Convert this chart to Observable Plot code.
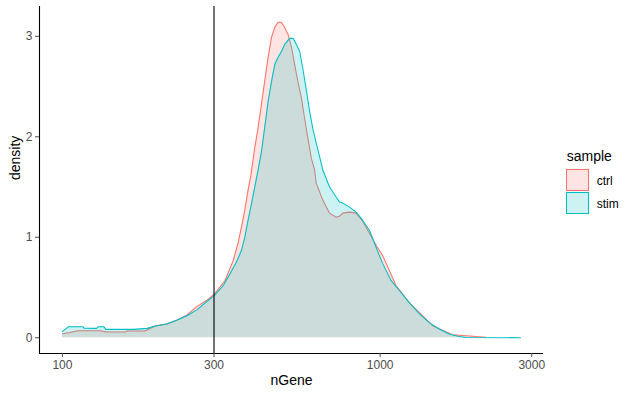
<!DOCTYPE html>
<html>
<head>
<meta charset="utf-8">
<script src="https://cdn.jsdelivr.net/npm/d3@7"></script>
<script src="https://cdn.jsdelivr.net/npm/@observablehq/plot@0.6"></script>
<style>
  body { margin: 0; background: #fff; }
  #wrap { position: relative; width: 635px; height: 398px; font-family: "Liberation Sans", Arial, sans-serif; }
  #legend { position: absolute; left: 556px; top: 140px; }
</style>
</head>
<body>
<div id="wrap"></div>
<script>
// ---- data (nGene on log scale, density) ----
const ctrlX = [100, 104.7, 112, 132, 135, 138, 158, 160, 182, 196, 213, 229, 246, 265, 284, 300, 325, 345, 357, 366, 375, 384, 392, 403, 413, 423, 433, 444, 455, 466, 477, 489, 498, 513, 526, 538, 551, 565, 578, 592, 607, 622, 629, 660, 693, 727, 745, 763, 801, 840, 881, 925, 971, 1018, 1069, 1122, 1235, 1359, 1462, 1689, 2149];
const ctrlD = [0.04, 0.05, 0.07, 0.07, 0.063, 0.057, 0.057, 0.067, 0.067, 0.117, 0.137, 0.175, 0.225, 0.31, 0.37, 0.43, 0.57, 0.77, 0.94, 1.10, 1.27, 1.47, 1.62, 1.89, 2.09, 2.32, 2.55, 2.79, 2.99, 3.09, 3.14, 3.14, 3.10, 3.02, 2.89, 2.72, 2.55, 2.39, 2.19, 1.99, 1.79, 1.67, 1.54, 1.37, 1.24, 1.20, 1.21, 1.24, 1.25, 1.24, 1.16, 1.04, 0.92, 0.82, 0.67, 0.52, 0.35, 0.22, 0.12, 0.03, 0.005];
const stimX = [100, 104.7, 116, 117, 128, 130, 135, 137, 166, 168, 185, 196, 213, 229, 246, 265, 284, 300, 321, 337, 353, 366, 375, 384, 394, 403, 413, 423, 433, 444, 455, 466, 477, 489, 501, 519, 532, 545, 558, 571, 586, 600, 614, 629, 645, 660, 693, 727, 745, 763, 801, 840, 881, 925, 971, 1018, 1082, 1149, 1235, 1327, 1427, 1534, 1649, 1772, 1860, 2767];
const stimD = [0.063, 0.11, 0.11, 0.095, 0.093, 0.11, 0.11, 0.083, 0.083, 0.083, 0.093, 0.117, 0.137, 0.173, 0.217, 0.277, 0.357, 0.417, 0.52, 0.637, 0.753, 0.87, 1.0, 1.17, 1.34, 1.50, 1.67, 1.85, 2.09, 2.35, 2.55, 2.72, 2.79, 2.85, 2.92, 2.98, 2.98, 2.92, 2.85, 2.68, 2.46, 2.25, 2.08, 1.94, 1.80, 1.67, 1.50, 1.40, 1.35, 1.34, 1.30, 1.25, 1.17, 1.07, 0.90, 0.74, 0.57, 0.47, 0.35, 0.24, 0.15, 0.087, 0.037, 0.013, 0.003, 0.0];
const samples = ["ctrl", "stim"];
const colors = ["#F8766D", "#00BFC4"];
const xTicks = [100, 300, 1000, 3000];
const yTicks = [0, 1, 2, 3];
const cutoff = 300;

// ggplot-like 5% expansion of the data range
const allX = ctrlX.concat(stimX);
const lx0 = Math.log10(d3.min(allX)), lx1 = Math.log10(d3.max(allX));
const padX = (lx1 - lx0) * 0.05;
const xDomain = [10 ** (lx0 - padX), 10 ** (lx1 + padX)];
const yMax = d3.max(ctrlD.concat(stimD));
const yDomain = [-0.05 * yMax, yMax * 1.05];

const font = '"Liberation Sans", Arial, sans-serif';

function series(xs, ds, color) {
  return [
    Plot.areaY(ds, {x: xs, y: ds, fill: color, fillOpacity: 0.2}),
    Plot.lineY(ds, {x: xs, y: ds, stroke: color, strokeWidth: 1.07})
  ];
}

const plot = Plot.plot({
  width: 635,
  height: 398,
  marginLeft: 39,
  marginRight: 92,
  marginTop: 6,
  marginBottom: 45,
  style: {fontFamily: font, fontSize: "12px", background: "white", overflow: "visible"},
  x: {type: "log", domain: xDomain},
  y: {domain: yDomain},
  marks: [
    ...series(ctrlX, ctrlD, colors[0]),
    ...series(stimX, stimD, colors[1]),
    Plot.ruleX([cutoff], {stroke: "black", strokeWidth: 1.1}),
    Plot.ruleX([xDomain[0]], {stroke: "black", strokeWidth: 1.1}),
    Plot.ruleY([yDomain[0]], {stroke: "black", strokeWidth: 1.1}),
    Plot.axisX({ticks: xTicks, tickFormat: d3.format("d"), tickSize: 4, tickPadding: 3, color: "#4D4D4D", label: null}),
    Plot.axisY({ticks: yTicks, tickFormat: d3.format("d"), tickSize: 4, tickPadding: 3, color: "#4D4D4D", label: null}),
    Plot.text(["nGene"], {frameAnchor: "bottom", dy: 31, fontSize: 14, fill: "black"}),
    Plot.text(["density"], {frameAnchor: "left", dx: -24, rotate: -90, fontSize: 14, fill: "black"})
  ]
});
document.getElementById("wrap").appendChild(plot);

// legend
const leg = d3.select("#wrap").append("svg").attr("id", "legend")
  .attr("width", 79).attr("height", 80)
  .style("font-family", font);
leg.append("text").attr("x", 10.7).attr("y", 20.7).attr("font-size", 14).attr("fill", "black").text("sample");
samples.forEach((s, i) => {
  const y0 = 29.5 + i * 23;
  leg.append("rect").attr("x", 10.5).attr("y", y0).attr("width", 22).attr("height", 21)
    .attr("fill", colors[i]).attr("fill-opacity", 0.2).attr("stroke", colors[i]).attr("stroke-width", 1.07);
  leg.append("text").attr("x", 40.7).attr("y", y0 + 15.5).attr("font-size", 12).attr("fill", "black").text(s);
});
</script>
</body>
</html>
